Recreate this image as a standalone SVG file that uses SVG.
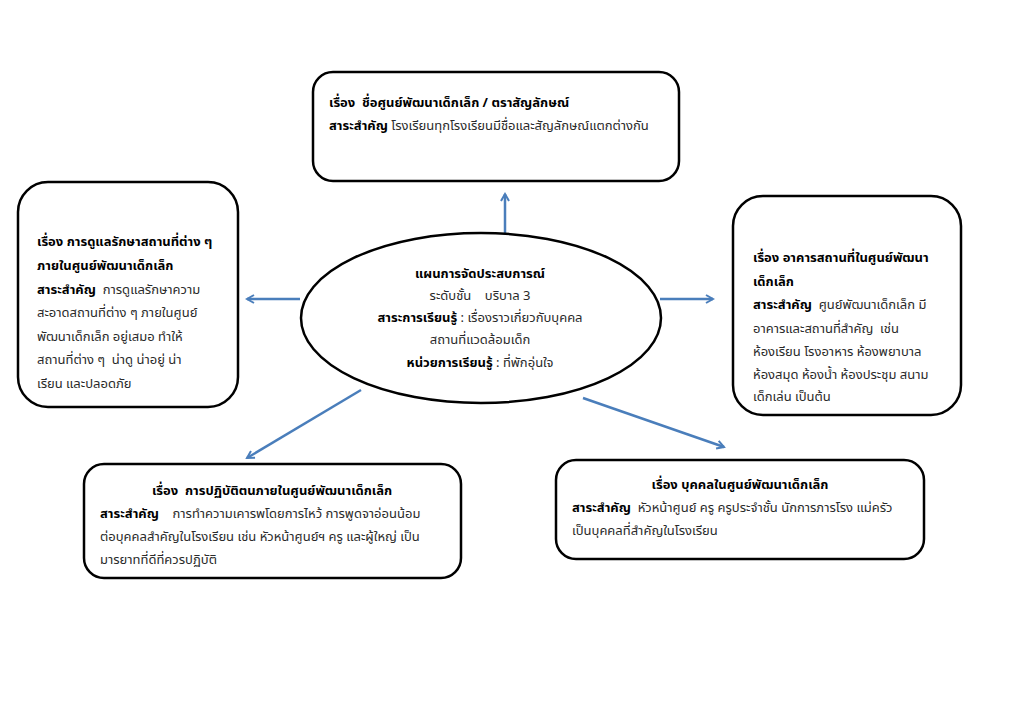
<svg xmlns="http://www.w3.org/2000/svg" width="1024" height="723" viewBox="0 0 1024 723">
<style>
.box{fill:#fff;stroke:#000;stroke-width:2.5}
.t{font-family:"Noto Sans","Noto Sans Thai","DejaVu Sans",sans-serif;font-size:13px;fill:#2a2a2a;white-space:pre}
.b{font-weight:bold;fill:#000}
.c{stroke:#4a7ebb;stroke-width:2.5;fill:none;marker-end:url(#ah)}
</style>
<defs>
<marker id="ah" viewBox="0 0 10 10" refX="8" refY="5" markerWidth="4" markerHeight="4" orient="auto" markerUnits="strokeWidth">
<path d="M1,1 L8,5 L1,9" fill="none" stroke="#4a7ebb" stroke-width="2"/>
</marker>
</defs>
<rect width="1024" height="723" fill="#fff"/>
<g id="connectors">
<line class="c" x1="505" y1="234" x2="505" y2="194"/>
<line class="c" x1="300" y1="299" x2="247" y2="299"/>
<line class="c" x1="660" y1="299" x2="713" y2="299"/>
<line class="c" x1="361" y1="390" x2="247" y2="458"/>
<line class="c" x1="583" y1="398" x2="724" y2="447"/>
</g>
<g id="center">
<ellipse class="box" cx="481" cy="318" rx="180" ry="85"/>
<text class="t" text-anchor="middle"><tspan class="b" x="480" y="278">แผนการจัดประสบการณ์</tspan><tspan x="480" y="300">ระดับชั้น    บริบาล 3</tspan><tspan x="480" y="322"><tspan class="b">สาระการเรียนรู้</tspan> : เรื่องราวเกี่ยวกับบุคคล</tspan><tspan x="480" y="344">สถานที่แวดล้อมเด็ก</tspan><tspan x="480" y="367"><tspan class="b">หน่วยการเรียนรู้</tspan> : ที่พักอุ่นใจ</tspan></text>
</g>
<g id="top">
<rect class="box" x="313" y="72" width="366" height="109" rx="20"/>
<text class="t"><tspan class="b" x="329" y="107">เรื่อง  ชื่อศูนย์พัฒนาเด็กเล็ก / ตราสัญลักษณ์</tspan><tspan x="329" y="130"><tspan class="b">สาระสำคัญ</tspan> โรงเรียนทุกโรงเรียนมีชื่อและสัญลักษณ์แตกต่างกัน</tspan></text>
</g>
<g id="left">
<rect class="box" x="18" y="182" width="220" height="225" rx="30"/>
<text class="t"><tspan class="b" x="37" y="246">เรื่อง การดูแลรักษาสถานที่ต่าง ๆ</tspan><tspan class="b" x="37" y="270">ภายในศูนย์พัฒนาเด็กเล็ก</tspan><tspan x="37" y="294"><tspan class="b">สาระสำคัญ</tspan>  การดูแลรักษาความ</tspan><tspan x="37" y="317">สะอาดสถานที่ต่าง ๆ ภายในศูนย์</tspan><tspan x="37" y="341">พัฒนาเด็กเล็ก อยู่เสมอ ทำให้</tspan><tspan x="37" y="364">สถานที่ต่าง ๆ  น่าดู น่าอยู่ น่า</tspan><tspan x="37" y="388">เรียน และปลอดภัย</tspan></text>
</g>
<g id="right">
<rect class="box" x="733" y="196" width="228" height="219" rx="30"/>
<text class="t"><tspan class="b" x="753" y="262">เรื่อง อาคารสถานที่ในศูนย์พัฒนา</tspan><tspan class="b" x="753" y="286">เด็กเล็ก</tspan><tspan x="753" y="309"><tspan class="b">สาระสำคัญ</tspan>  ศูนย์พัฒนาเด็กเล็ก มี</tspan><tspan x="753" y="333">อาคารและสถานที่สำคัญ  เช่น</tspan><tspan x="753" y="356">ห้องเรียน โรงอาหาร ห้องพยาบาล</tspan><tspan x="753" y="379">ห้องสมุด ห้องน้ำ ห้องประชุม สนาม</tspan><tspan x="753" y="401">เด็กเล่น เป็นต้น</tspan></text>
</g>
<g id="bottomleft">
<rect class="box" x="84" y="464" width="377" height="114" rx="20"/>
<text class="t"><tspan class="b" x="272" y="495" text-anchor="middle">เรื่อง  การปฏิบัติตนภายในศูนย์พัฒนาเด็กเล็ก</tspan><tspan x="100" y="518"><tspan class="b">สาระสำคัญ</tspan>    การทำความเคารพโดยการไหว้ การพูดจาอ่อนน้อม</tspan><tspan x="100" y="541">ต่อบุคคลสำคัญในโรงเรียน เช่น หัวหน้าศูนย์ฯ ครู และผู้ใหญ่ เป็น</tspan><tspan x="100" y="564">มารยาทที่ดีที่ควรปฏิบัติ</tspan></text>
</g>
<g id="bottomright">
<rect class="box" x="556" y="460" width="368" height="99" rx="20"/>
<text class="t"><tspan class="b" x="740" y="489" text-anchor="middle">เรื่อง บุคคลในศูนย์พัฒนาเด็กเล็ก</tspan><tspan x="572" y="512"><tspan class="b">สาระสำคัญ</tspan>  หัวหน้าศูนย์ ครู ครูประจำชั้น นักการภารโรง แม่ครัว</tspan><tspan x="572" y="535">เป็นบุคคลที่สำคัญในโรงเรียน</tspan></text>
</g>
</svg>
